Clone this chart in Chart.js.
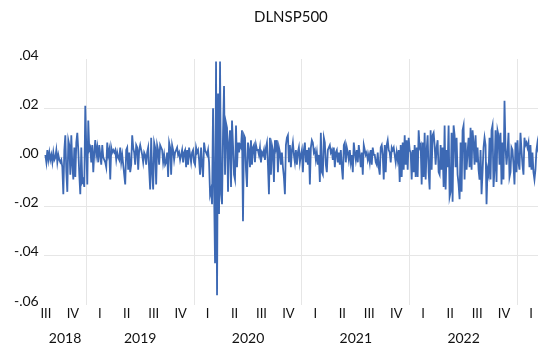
<!DOCTYPE html>
<html>
<head>
<meta charset="utf-8">
<script src="https://cdn.jsdelivr.net/npm/chart.js@4"></script>
<style>
  html, body { margin: 0; padding: 0; background: #fff; }
  #wrap { width: 538px; height: 347px; }
</style>
</head>
<body>
<div id="wrap"><canvas id="chart"></canvas></div>
<script>
// DLNSP500 (units: 0.001), about one value per pixel
// one row = one month, 9 samples (first and last months are partial)
const dlnsp500Milli = [
  1, -2, 3, -1, 2, -1,                       // 2018-08 (from mid month)
  1, -2, 2, -1, 0, 3, -2, 1, -1,             // 2018-09
  -2, -1, -4, -15, 3, 9, -6, -14, 7,         // 2018-10
  5, -7, 9, -3, -9, 4, -8, 6, 10,            // 2018-11
  3, -7, -15, 4, -10, -9, -12, 21, 4,        // 2018-12
  -11, 15, 3, 4, -2, 5, -6, 2, 7,            // 2019-01
  1, 4, -2, 5, 1, -3, 5, 0, -1,
  -2, -4, 6, 1, 3, -9, 4, 2, 3,
  2, 3, -1, 2, 0, -1, 4, -2, 1,
  -3, -7, -11, 3, 4, -5, 2, -6, -3,
  9, 4, 2, -3, 5, 4, -5, 3, 5,
  3, 1, -2, 2, 1, -3, 2, 4, -5,
  -13, 8, -6, -13, 6, 4, -11, 5, 3,          // 2019-08
  -3, 5, 4, 3, -2, 1, -3, -2, 2,
  -8, 6, 4, -7, 5, 3, -1, 2, 3,
  4, 1, 2, -1, 1, 3, -2, 2, 3,
  -4, 3, -3, 4, 1, -2, 2, 3, -2,             // 2019-12
  -3, 4, 2, 3, -1, -7, 4, -3, -8,            // 2020-01
  6, 3, 2, 1, 3, -2, -15, -13, -19,
  20, -12, -43, 39, -56, 26, -23, 39, -15,   // 2020-03
  -19, 10, 29, -7, 14, 12, -14, 6, 11,
  -12, 15, 5, -7, -9, 13, -4, 6, 2,
  5, 4, 11, -26, 9, 8, -5, -12, 6,
  3, -4, 7, -3, 4, 5, -2, 5, 3,
  3, 1, 4, -2, 2, 1, 3, -1, 4,
  6, -3, -15, 8, -7, 5, 3, -10, 7,           // 2020-09
  4, 7, -6, 4, 2, -3, 2, -4, -8,
  -15, 5, 8, 9, -2, 5, -4, 3, 6,
  1, -2, 3, -3, 2, 4, -2, 1, 3,              // 2020-12
  -6, 3, 6, -2, 3, -3, 4, -11, 4,            // 2021-01
  7, 6, 2, 3, -1, 2, -3, 1, -10,
  10, -6, -7, 8, 6, -3, -6, 3, 4,
  5, 2, 3, -1, 4, -4, 2, 3, -2,
  2, -3, 3, -4, -9, 5, 6, -2, 4,
  2, -1, 3, -2, 1, -6, 6, 2, -1,
  3, -2, 5, 1, -4, 2, -7, 5, 3,
  1, 2, -1, 1, -2, 3, -3, 4, 1,
  1, -2, -3, 2, -4, -7, 4, 5, 1,
  -9, 5, -6, 5, 7, 3, 2, -2, 4,
  3, 4, 1, -2, 2, -1, 3, -10, 5,
  -8, 6, -5, 9, -3, 7, -5, 8, 3,             // 2021-12
  2, -9, 3, -6, 5, -8, 4, -8, 11,            // 2022-01
  4, 5, -11, 6, -8, 10, -9, 3, 9,
  -6, -13, 11, -5, 9, 10, 5, -3, 4,
  7, -6, -7, 5, -5, 4, -12, 13, -13,
  3, -4, 13, -16, -14, 10, -18, 13, 9,
  -4, 8, -7, -11, -17, 6, -14, 11, 13,
  -9, 6, -5, 2, 8, -4, 12, -5, 11,
  6, -3, 9, -2, 4, -5, -9, 3, -15,
  -6, 4, 8, 5, -19, -5, -7, 8, -9,
  11, 13, -12, -5, 11, -10, 11, 9, -3,
  10, -11, 6, -9, 23, 4, -3, 2, 10,
  -8, -6, 4, 3, -3, -11, 6, -6, 7,           // 2022-12
  -2, -5, 10, 3, -3, -7, 8, 5, 6,            // 2023-01
  4, 6, -4, 5, -5, 2, -6, -9, -5,
  3, 6, 2                                    // 2023-03 (first days)
];

// x-axis text
const quarterLabels = ['III', 'IV',
  'I', 'II', 'III', 'IV',
  'I', 'II', 'III', 'IV',
  'I', 'II', 'III', 'IV',
  'I', 'II', 'III', 'IV',
  'I'];
const yearLabels = ['2018', '2019', '2020', '2021', '2022'];

// y ticks: .04 ... -.06
const yMin = -0.06, yMax = 0.04, yStep = 0.02;

// time range shown (decimal years)
const xMin = 2018.605, xMax = 2023.19;
const firstSample = 2018.62;
const samplesPerYear = 108;
const firstQuarterStart = 2018.5; // Q3 2018

const points = dlnsp500Milli.map((v, i) => ({ x: firstSample + i / samplesPerYear, y: v / 1000 }));

// tick positions: quarter centres, year borders, centre of each visible year
const quarterPos = quarterLabels.map((q, i) => firstQuarterStart + (i + 0.5) / 4);
const yearBorders = [2019, 2020, 2021, 2022, 2023];
const yearPos = yearLabels.map(y => {
  const a = Math.max(+y, xMin), b = Math.min(+y + 1, xMax);
  return (a + b) / 2;
});
const isBorder = v => yearBorders.some(b => Math.abs(b - v) < 1e-6);

Chart.defaults.font.family = 'Lato, "Open Sans", sans-serif';
Chart.defaults.color = '#111';

new Chart(document.getElementById('chart'), {
  type: 'line',
  data: {
    datasets: [{
      label: 'DLNSP500',
      data: points,
      borderColor: '#3d69b4',
      borderWidth: 1.8,
      pointRadius: 0,
      tension: 0
    }]
  },
  options: {
    responsive: true,
    maintainAspectRatio: false,
    animation: false,
    layout: { padding: { left: 9, right: 0, top: 0, bottom: 0 } },
    plugins: {
      legend: { display: false },
      tooltip: { enabled: false },
      title: {
        display: true,
        fullSize: false,
        text: 'DLNSP500',
        color: '#111',
        font: { size: 15, weight: 'normal' },
        padding: { top: 8, bottom: 33 }
      }
    },
    scales: {
      x: {
        type: 'linear',
        min: xMin,
        max: xMax,
        afterBuildTicks: axis => {
          axis.ticks = quarterPos.concat(yearBorders.filter(b => b > xMin && b < xMax))
            .sort((a, b) => a - b).map(v => ({ value: v }));
        },
        afterFit: axis => { axis.height = 17; },
        ticks: {
          autoSkip: false,
          maxRotation: 0,
          padding: 1,
          font: { size: 13 },
          callback: value => {
            const i = quarterPos.findIndex(q => Math.abs(q - value) < 1e-6);
            return i >= 0 ? quarterLabels[i] : '';
          }
        },
        grid: {
          drawTicks: false,
          color: ctx => (ctx.tick && isBorder(ctx.tick.value)) ? '#e6e6e6' : 'rgba(0,0,0,0)'
        },
        border: { display: false }
      },
      xYear: {
        type: 'linear',
        position: 'bottom',
        weight: 1,
        min: xMin,
        max: xMax,
        afterBuildTicks: axis => {
          axis.ticks = yearPos.map(v => ({ value: v }));
        },
        afterFit: axis => { axis.height = 25; },
        ticks: {
          autoSkip: false,
          maxRotation: 0,
          padding: 8,
          font: { size: 14 },
          callback: (value, index) => yearLabels[index]
        },
        grid: { display: false, drawTicks: false },
        border: { display: false }
      },
      y: {
        min: yMin,
        max: yMax,
        ticks: {
          stepSize: yStep,
          padding: 5,
          labelOffset: -4,
          font: { size: 14 },
          callback: v => v.toFixed(2).replace('0.', '.')
        },
        grid: {
          drawTicks: false,
          color: ctx => (ctx.index === 0 || Math.abs(ctx.tick.value - yMax) < 1e-9) ? 'rgba(0,0,0,0)' : '#e6e6e6'
        },
        border: { display: false }
      }
    }
  }
});
</script>
</body>
</html>
